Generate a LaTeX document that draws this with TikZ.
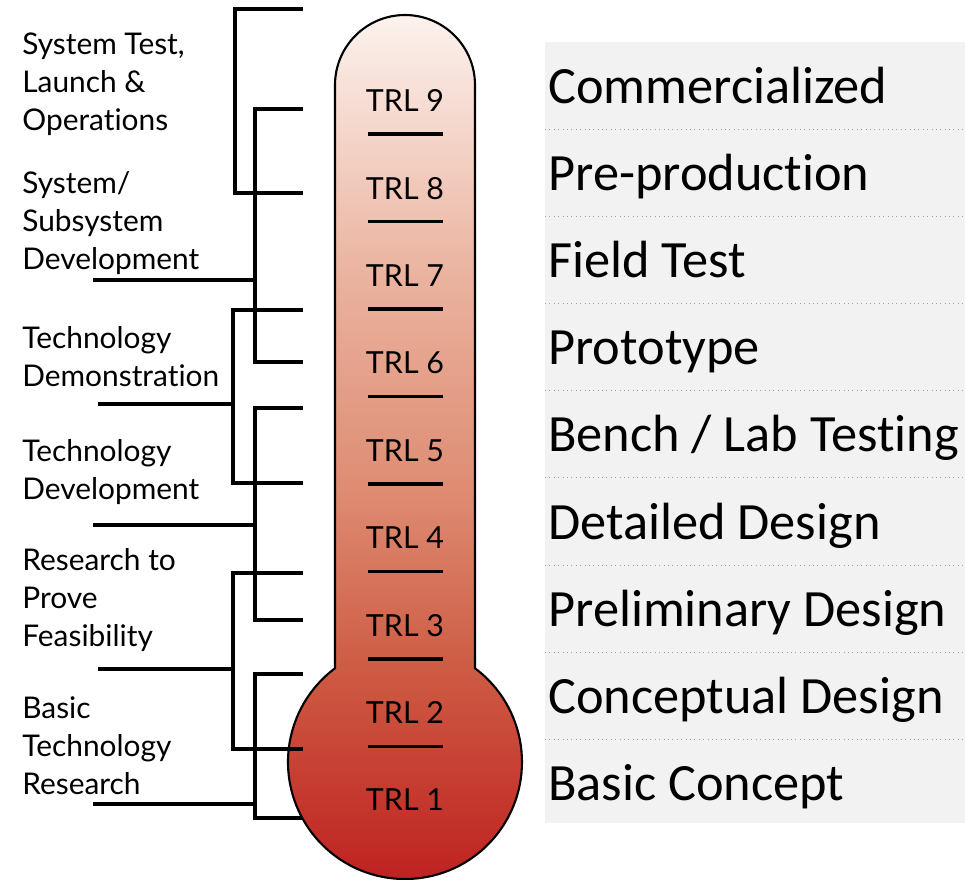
\documentclass[tikz,border=0pt]{standalone}
\usepackage{fontspec}
\setmainfont{Lato}[Ligatures=NoCommon]
\newfontfamily\calibfont{Carlito}[Ligatures=NoCommon]
\usepackage{xcolor}
\usepackage{tikz}
\usetikzlibrary{calc,positioning}

\definecolor{thA}{RGB}{190,30,30}
\definecolor{thB}{RGB}{206,92,68}
\definecolor{thC}{RGB}{222,140,115}
\definecolor{thD}{RGB}{234,178,158}
\definecolor{thE}{RGB}{252,242,238}
\definecolor{panel}{RGB}{242,242,242}
\definecolor{dotline}{RGB}{160,160,160}
\pgfdeclareverticalshading{thermo}{100bp}{color(0bp)=(thA); color(25bp)=(thA); color(38bp)=(thB); color(48bp)=(thC); color(60bp)=(thD); color(75bp)=(thE); color(100bp)=(thE)}

\begin{document}
\begin{tikzpicture}[x=0.02cm,y=0.02cm,
  trl/.style={font=\fontsize{17.3}{20}\selectfont, inner sep=0pt},
  phase/.style={font=\fontsize{17}{21.6}\selectfont, align=left, anchor=north west, inner sep=0pt},
  stage/.style={font=\calibfont\fontsize{29.8}{32}\selectfont, anchor=base west, inner sep=0pt},
  brk/.style={line width=1.9pt},
  tick/.style={line width=1.9pt}]

\useasboundingbox (0,0) rectangle (965,-880);

\fill[panel] (545,-42) rectangle (965,-823);
\foreach \k in {0,...,7}
  \draw[dotline, dotted, line width=0.5pt] (545,-129-87.2*\k) -- (965,-129-87.2*\k);

\foreach \n/\txt in {9/Commercialized, 8/Pre-production, 7/Field Test, 6/Prototype,
    5/{Bench / Lab Testing}, 4/Detailed Design, 3/Preliminary Design,
    2/Conceptual Design, 1/Basic Concept}
  \node[stage] (stage\n) at (548,-103-87.2*9+87.2*\n) {\txt};

  \shadedraw[shading=thermo, line width=1.2pt] (335,-85) arc[start angle=180, end angle=0, radius=70]
    -- (475,-668.3) arc[start angle=53.24, end angle=-233.24, radius=117] -- cycle;

\foreach \n in {1,...,9}
  \node[trl] (trl\n) at (405,-800+87.4*\n-87.4) {TRL \n};
\foreach \k in {0,...,7}
  \draw[tick] (368,-134-87.5*\k) -- (443,-134-87.5*\k);

\node[phase] (testops) at (22,-33) {System Test,\\Launch \&\\Operations};
\node[phase] (sysdev) at (22,-171) {System/\\Subsystem\\Development};
\node[phase] (techdemo) at (22,-326) {Technology\\Demonstration};
\node[phase] (techdev) at (22,-439) {Technology\\Development};
\node[phase] (feasib) at (22,-548) {Research to\\Prove\\Feasibility};
\node[phase] (basicres) at (22,-696) {Basic\\Technology\\Research};

\draw[brk] (303,-9) -| (235,-193) -- (303,-193);
\draw[brk] (303,-109) -| (255,-362) -- (303,-362);
\draw[brk] (303,-310) -| (233,-483) -- (303,-483);
\draw[brk] (303,-408) -| (255,-620) -- (303,-620);
\draw[brk] (303,-573) -| (233,-749) -- (303,-749);
\draw[brk] (303,-674) -| (255,-818) -- (303,-818);

\draw[brk] (93,-280) -- (255,-280);
\draw[brk] (98,-404) -- (233,-404);
\draw[brk] (93,-525) -- (255,-525);
\draw[brk] (98,-669) -- (233,-669);
\draw[brk] (93,-804) -- (255,-804);

\end{tikzpicture}
\end{document}
